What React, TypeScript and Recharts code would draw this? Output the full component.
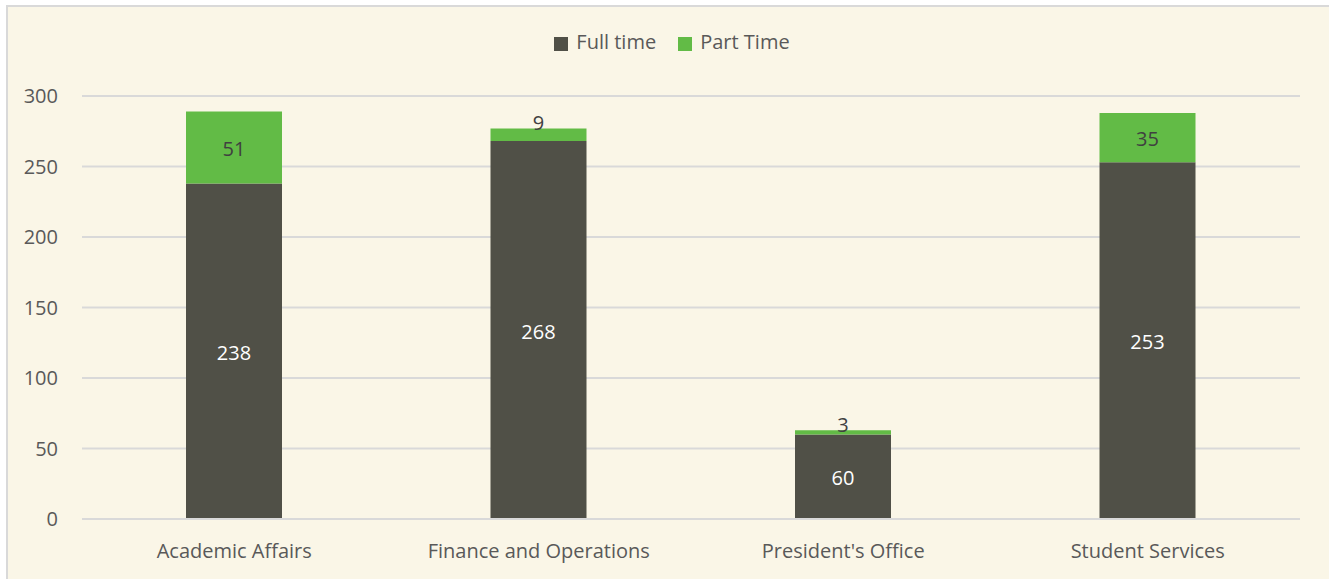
import React from 'react';
import { BarChart, Bar, XAxis, YAxis, CartesianGrid, Legend, LabelList } from 'recharts';

const categories = ['Academic Affairs', 'Finance and Operations', "President's Office", 'Student Services'];
const fullTime = [238, 268, 60, 253];
const partTime = [51, 9, 3, 35];
const yTicks = [0, 50, 100, 150, 200, 250, 300];

const data = categories.map((name, i) => ({ name, full: fullTime[i], part: partTime[i] }));

const FONT = '"Open Sans", Lato, sans-serif';
const FS = 20;

// Excel-like: thin segments get their label nudged up over the top edge
const makeLabel = (color: string) => (props: any) => {
  const { x, y, width, height, value } = props;
  const cy = height < 20 ? y - 6 : y + height / 2 + 1;
  return (
    <text
      x={x + width / 2}
      y={cy}
      textAnchor="middle"
      dominantBaseline="central"
      fill={color}
      fontSize={FS}
      fontFamily={FONT}
    >
      {value}
    </text>
  );
};

const App = () => {
  return (
    <div>
      <style>{'body{margin:0;background:#fff;}'}</style>
      <div
        style={{
          position: 'absolute',
          left: 6,
          top: 5,
          width: 1340,
          height: 590,
          background: '#FAF6E7',
          borderLeft: '2px solid #D9D9D9',
          borderTop: '2px solid #D9D9D9',
          fontFamily: FONT,
        }}
      >
        <BarChart
          width={1321}
          height={572}
          data={data}
          margin={{ top: 62, right: 29, left: 0, bottom: 30 }}
        >
          <CartesianGrid vertical={false} stroke="#D9D9D9" strokeWidth={2} />
          <XAxis
            dataKey="name"
            axisLine={{ stroke: '#D9D9D9', strokeWidth: 2 }}
            tickLine={false}
            tickMargin={19}
            tick={{ fill: '#595959', fontSize: FS, fontFamily: FONT }}
          />
          <YAxis
            domain={[0, 300]}
            ticks={yTicks}
            width={74}
            axisLine={false}
            tickLine={false}
            tickSize={0}
            tickMargin={24}
            tick={{ fill: '#595959', fontSize: FS, fontFamily: FONT }}
          />
          <Legend
            verticalAlign="top"
            align="center"
            iconType="square"
            iconSize={14}
            wrapperStyle={{ top: 21, left: 29, fontSize: FS, fontFamily: FONT }}
            formatter={(value) => (
              <span style={{ color: '#595959', marginLeft: 4, marginRight: 12 }}>{value}</span>
            )}
          />
          <Bar dataKey="full" name="Full time" stackId="a" fill="#505047" barSize={96} isAnimationActive={false}>
            <LabelList dataKey="full" content={makeLabel('#FFFFFF')} />
          </Bar>
          <Bar dataKey="part" name="Part Time" stackId="a" fill="#62BB46" barSize={96} isAnimationActive={false}>
            <LabelList dataKey="part" content={makeLabel('#404040')} />
          </Bar>
        </BarChart>
      </div>
    </div>
  );
};

export default App;
